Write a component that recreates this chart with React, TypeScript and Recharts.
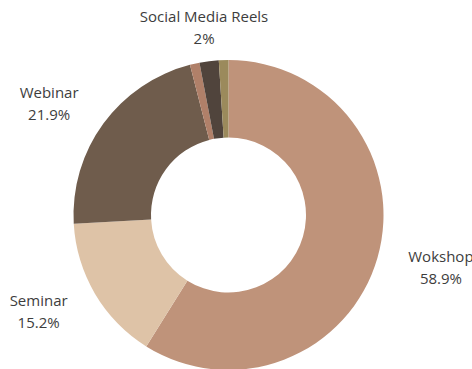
import { PieChart, Pie, Cell } from 'recharts'

const categories = ['Wokshop', 'Seminar', 'Webinar', '', 'Social Media Reels', '']
const shares = [58.9, 15.2, 21.9, 1, 2, 1]
const colors = ['#bf937a', '#dec3a7', '#6f5c4c', '#b08069', '#50443c', '#9b8a5c']

const data = categories.map((name, i) => ({ name, value: shares[i] }))

const RAD = Math.PI / 180

function renderLabel(p: any) {
  const { cx, cy, midAngle, outerRadius, name, value } = p
  if (!name) return null
  const r = outerRadius + 40
  const cos = Math.cos(-midAngle * RAD)
  const sin = Math.sin(-midAngle * RAD)
  const shift = cos > 0.3 ? 25 : cos < -0.3 ? -22 : 0
  const x = cx + r * cos + shift
  const y = cy + (r - 6) * sin
  return (
    <text x={x} y={y} textAnchor="middle" fill="#3d3d3d"
      style={{ fontFamily: "'Open Sans', sans-serif", fontSize: 15 }}>
      <tspan x={x} dy={-11} dominantBaseline="central">{name}</tspan>
      <tspan x={x} dy={22} dominantBaseline="central">{`${value}%`}</tspan>
    </text>
  )
}

export default function App() {
  return (
    <div style={{ position: 'absolute', left: 0, top: 0, background: '#fff' }}>
      <PieChart width={472} height={369} margin={{ top: 0, right: 0, bottom: 0, left: 0 }}>
        <Pie
          data={data}
          dataKey="value"
          nameKey="name"
          cx={228.5}
          cy={215}
          innerRadius={77.5}
          outerRadius={155}
          startAngle={90}
          endAngle={-270}
          stroke="none"
          labelLine={false}
          label={renderLabel}
          isAnimationActive={false}
        >
          {data.map((d, i) => <Cell key={i} fill={colors[i]} />)}
        </Pie>
      </PieChart>
    </div>
  )
}
